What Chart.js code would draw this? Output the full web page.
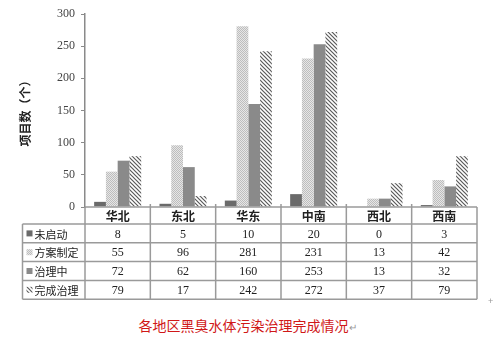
<!DOCTYPE html>
<html>
<head>
<meta charset="utf-8">
<script src="https://cdn.jsdelivr.net/npm/chart.js@4/dist/chart.umd.min.js"></script>
<style>
  body { margin: 0; background: #fff; width: 495px; height: 341px; overflow: hidden; position: relative; }
  #wrap { position: absolute; left: 0; top: 0; width: 495px; height: 305px; }
  #title { position: absolute; left: 0; width: 495px; top: 316px; text-align: center;
           font: 14px "Noto Sans CJK SC", sans-serif; color: #d01818; line-height: 18px; }
  #title span { color: #999; font-size: 10px; }
  #plus { position: absolute; left: 488px; top: 296px; color: #999; font: 9px sans-serif; }
</style>
</head>
<body>
<div id="wrap"><canvas id="chart"></canvas></div>
<div id="title">各地区黑臭水体污染治理完成情况<span>↵</span></div>
<div id="plus">+</div>
<script>
const regions = ["华北", "东北", "华东", "中南", "西北", "西南"];
const notStarted = [8, 5, 10, 20, 0, 3];
const planning = [55, 96, 281, 231, 13, 42];
const inProgress = [72, 62, 160, 253, 13, 32];
const finished = [79, 17, 242, 272, 37, 79];
const seriesNames = ["未启动", "方案制定", "治理中", "完成治理"];
const yTicks = [0, 50, 100, 150, 200, 250, 300];

function dotPattern() {
  const c = document.createElement("canvas");
  c.width = 2; c.height = 2;
  const g = c.getContext("2d");
  g.fillStyle = "#e6e6e6"; g.fillRect(0, 0, 2, 2);
  g.fillStyle = "#bdbdbd"; g.fillRect(0, 0, 1, 1); g.fillRect(1, 1, 1, 1);
  return g.createPattern(c, "repeat");
}
function hatchPattern() {
  const c = document.createElement("canvas");
  c.width = 4; c.height = 4;
  const g = c.getContext("2d");
  g.fillStyle = "#fff"; g.fillRect(0, 0, 4, 4);
  g.strokeStyle = "#5a5a5a"; g.lineWidth = 1.2;
  g.beginPath();
  g.moveTo(-1, -1); g.lineTo(5, 5);
  g.moveTo(-1, 3); g.lineTo(1, 5);
  g.moveTo(3, -1); g.lineTo(5, 1);
  g.stroke();
  return g.createPattern(c, "repeat");
}

const fills = ["#6a6a6a", dotPattern(), "#8a8a8a", hatchPattern()];
const rows = [notStarted, planning, inProgress, finished];

const tablePlugin = {
  id: "dataTable",
  afterDraw(chart) {
    const ctx = chart.ctx;
    const x = chart.scales.x;
    const a = chart.chartArea;
    const colW = (a.right - a.left) / regions.length;
    const top = a.bottom;
    const headH = 17;
    const rowH = 18.8;
    const labelLeft = 22.5;
    const bottom = top + headH + rowH * rows.length;
    ctx.save();
    ctx.strokeStyle = "#9a9a9a";
    ctx.lineWidth = 1.5;
    ctx.beginPath();
    ctx.moveTo(a.left, top); ctx.lineTo(a.right, top);
    for (let i = 0; i <= rows.length; i++) {
      const y = top + headH + rowH * i;
      ctx.moveTo(labelLeft, y); ctx.lineTo(a.right, y);
    }
    for (let j = 0; j <= regions.length; j++) {
      const xx = a.left + colW * j;
      ctx.moveTo(xx, j === 0 || j === regions.length ? top : top - 3);
      ctx.lineTo(xx, bottom);
    }
    ctx.moveTo(labelLeft, top + headH); ctx.lineTo(labelLeft, bottom);
    ctx.stroke();

    ctx.textAlign = "center";
    ctx.textBaseline = "middle";
    ctx.fillStyle = "#222";
    ctx.font = "bold 12px 'Noto Sans CJK SC'";
    regions.forEach((r, j) => {
      ctx.fillText(r, x.getPixelForValue(j), top + headH / 2 + 1);
    });
    ctx.font = "12px 'Liberation Serif'";
    rows.forEach((vals, i) => {
      const cy = top + headH + rowH * i + rowH / 2 + 1;
      vals.forEach((v, j) => {
        ctx.fillText(String(v), x.getPixelForValue(j), cy);
      });
    });
    ctx.textAlign = "left";
    ctx.font = "11px 'Noto Sans CJK SC'";
    seriesNames.forEach((name, i) => {
      const cy = top + headH + rowH * i + rowH / 2;
      ctx.fillStyle = fills[i];
      ctx.fillRect(labelLeft + 4, cy - 3, 6, 6);
      ctx.fillStyle = "#222";
      ctx.fillText(name, labelLeft + 12, cy + 1);
    });
    ctx.restore();
  }
};

new Chart(document.getElementById("chart"), {
  type: "bar",
  data: {
    labels: regions,
    datasets: rows.map((vals, i) => ({
      label: seriesNames[i],
      data: vals,
      backgroundColor: fills[i],
      borderWidth: 0
    }))
  },
  options: {
    responsive: true,
    maintainAspectRatio: false,
    animation: false,
    layout: { padding: { top: 14, right: 18, bottom: 98, left: 0 } },
    plugins: { legend: { display: false }, tooltip: { enabled: false } },
    datasets: { bar: { categoryPercentage: 0.72, barPercentage: 1 } },
    scales: {
      x: { display: false },
      y: {
        min: 0, max: 300,
        afterFit(scale) { scale.width = 85; },
        afterBuildTicks(scale) { scale.ticks = yTicks.map(v => ({ value: v })); },
        grid: { drawOnChartArea: false, drawTicks: true, tickLength: 4, color: "#8a8a8a" },
        border: { display: true, color: "#8a8a8a", width: 1.5 },
        ticks: { color: "#444", padding: 6, font: { family: "Liberation Serif", size: 12 } },
        title: {
          display: true,
          text: "项目数（个）",
          color: "#222",
          padding: { top: 18, bottom: 0 },
          font: { family: "Noto Sans CJK SC", size: 12, weight: "bold" }
        }
      }
    }
  },
  plugins: [tablePlugin]
});
</script>
</body>
</html>
